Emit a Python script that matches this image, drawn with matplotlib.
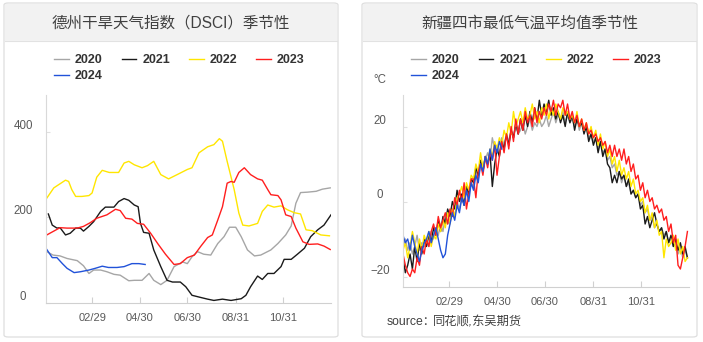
import matplotlib.pyplot as plt
from matplotlib.patches import FancyBboxPatch, Rectangle
from matplotlib.lines import Line2D

plt.rcParams['font.family'] = ['Liberation Sans', 'Noto Sans CJK SC', 'DejaVu Sans']

years = ['2020', '2021', '2022', '2023', '2024']
colors = {'2020': '#a6a6a6', '2021': '#1a1a1a', '2022': '#ffe600',
          '2023': '#ff1e1e', '2024': '#2152d9'}

# x axis: day of year (leap-year calendar)
tick_days = [60, 121, 182, 244, 305]
tick_labels = ['02/29', '04/30', '06/30', '08/31', '10/31']

# Dezhou drought index (DSCI)
dsci_day_2020 = [2, 10, 19, 28, 41, 49, 56, 62, 71, 79, 88, 96, 107, 114, 124, 133, 139, 148, 156,
                 165, 176, 182, 188, 195, 203, 212, 221, 229, 236, 244, 251, 259, 268, 276, 289,
                 298, 308, 315, 321, 327, 336, 347, 355, 365]
dsci_2020 = [120, 112, 110, 104, 99, 87, 69, 77, 77, 73, 67, 65, 52, 53, 53, 69, 53, 43, 53,
             85, 96, 92, 108, 120, 114, 112, 139, 155, 177, 177, 155, 124, 110, 112, 124,
             139, 159, 180, 233, 258, 259, 261, 266, 269]

dsci_day_2021 = [4, 9, 15, 19, 26, 32, 39, 45, 49, 56, 62, 71, 77, 88, 94, 101, 107, 114, 119,
                 122, 126, 133, 139, 148, 156, 163, 173, 180, 188, 199, 208, 216, 227, 238, 251,
                 257, 263, 272, 278, 285, 293, 302, 306, 315, 323, 332, 340, 349, 357, 366]
dsci_2021 = [208, 182, 175, 176, 159, 163, 175, 175, 168, 179, 190, 214, 224, 224, 237, 244, 240,
             229, 225, 186, 165, 163, 124, 85, 53, 49, 49, 38, 18, 13, 9, 6, 9, 6, 10,
             18, 38, 63, 55, 69, 69, 85, 102, 102, 114, 128, 155, 171, 182, 206]

dsci_day_2022 = [2, 11, 26, 30, 34, 39, 47, 56, 60, 66, 73, 82, 94, 101, 107, 114, 124, 131, 139,
                 148, 158, 169, 182, 188, 197, 208, 216, 223, 227, 233, 242, 248, 253, 261, 272,
                 278, 285, 293, 302, 310, 319, 327, 334, 342, 353, 364]
dsci_2022 = [245, 269, 287, 284, 265, 249, 249, 251, 257, 294, 310, 305, 305, 327, 331, 323, 316,
             321, 331, 300, 290, 300, 312, 316, 351, 365, 370, 384, 378, 331, 265, 210, 182, 180,
             186, 214, 229, 224, 227, 218, 211, 208, 171, 169, 159, 157]

dsci_day_2023 = [2, 10, 19, 28, 41, 49, 58, 66, 79, 90, 96, 103, 111, 118, 126, 135, 144, 154,
                 165, 173, 182, 191, 199, 208, 214, 221, 227, 233, 238, 242, 248, 255, 263, 272,
                 278, 285, 289, 298, 302, 308, 315, 321, 330, 338, 349, 357, 365]
dsci_2023 = [159, 167, 176, 175, 175, 179, 188, 198, 206, 219, 216, 198, 196, 186, 184, 163, 139,
             114, 90, 92, 106, 112, 132, 153, 159, 194, 225, 280, 284, 282, 305, 316, 300, 290,
             287, 265, 253, 251, 241, 206, 202, 175, 143, 137, 138, 133, 125]

dsci_day_2024 = [2, 9, 15, 22, 28, 37, 45, 56, 64, 73, 81, 92, 101, 111, 120, 128]
dsci_2024 = [125, 106, 106, 92, 81, 71, 73, 77, 81, 86, 83, 83, 85, 92, 92, 90]

# Xinjiang four-city mean minimum temperature (deg C), every 3rd day
temp_day = list(range(1, 366, 3))
temp_2020 = [-12, -10, -13, -11, -14, -12, -9, -13, -11, -12,
             -10, -12, -8, -10, -7, -9, -6, -8, -4, -6,
             -5, -2, -4, 0, -2, 1, -1, 3, 2, 5,
             4, 8, 6, 10, 8, 11, 13, 11, 17, 14,
             15, 13, 17, 15, 18, 16, 19, 17, 20, 18,
             19, 21, 18, 20, 22, 19, 21, 20, 22, 20,
             21, 23, 20, 22, 24, 21, 23, 22, 24, 21,
             23, 21, 22, 20, 22, 19, 21, 19, 20, 17,
             18, 16, 17, 14, 16, 13, 14, 11, 12, 9,
             10, 7, 8, 5, 7, 4, 5, 2, 3, 1,
             2, -1, 0, -3, -2, -5, -4, -7, -6, -8,
             -7, -9, -8, -11, -10, -12, -11, -14, -12, -15, -13, -15]
temp_2021 = [-15, -19, -17, -14, -18, -12, -16, -11, -14, -10,
             -12, -9, -11, -7, -9, -5, -8, -4, -6, -2,
             -4, 0, -2, 3, 0, 2, -1, 4, 2, 6,
             5, 9, 7, 11, 8, 12, 10, 13, 4, 10,
             14, 12, 16, 14, 18, 15, 19, 17, 21, 18,
             22, 19, 23, 20, 24, 21, 25, 22, 27, 23,
             26, 24, 27, 23, 25, 22, 24, 21, 23, 20,
             24, 21, 23, 19, 22, 20, 21, 18, 20, 16,
             18, 15, 17, 13, 16, 12, 14, 10, 9, 5,
             7, 5, 8, 6, 7, 4, 6, 2, 3, 1,
             2, -2, -1, -6, -4, -7, -5, -3, -6, -8,
             -7, -10, -8, -11, -9, -12, -10, -13, -11, -14, -12, -15]
temp_2022 = [-13, -11, -15, -12, -8, -11, -14, -10, -13, -9,
             -11, -8, -12, -9, -10, -6, -8, -5, -7, -3,
             -6, -2, -4, 1, 2, 4, 1, 5, 3, 7,
             6, 10, 8, 13, 9, 12, 10, 14, 12, 16,
             14, 17, 15, 19, 17, 21, 18, 24, 20, 22,
             24, 21, 25, 22, 23, 26, 22, 24, 21, 25,
             23, 26, 22, 25, 23, 26, 24, 22, 25, 23,
             24, 22, 23, 21, 24, 20, 22, 19, 21, 18,
             20, 17, 19, 15, 18, 14, 16, 12, 14, 10,
             12, 8, 11, 7, 9, 6, 8, 4, 6, 2,
             3, 0, 1, -3, -1, -5, -3, -7, -5, -9,
             -8, -15, -10, -12, -11, -9, -13, -10, -14, -12, -16, -15]
temp_2023 = [-14, -17, -19, -20, -18, -19, -15, -17, -12, -14,
             -10, -12, -8, -6, -9, -4, -7, -5, -3, -6,
             -2, -4, 1, -1, 3, 0, 5, -2, 2, 6,
             6, 1, 8, 10, 7, 12, 9, 13, 11, 15,
             7, 12, 16, 13, 18, 14, 20, 16, 22, 18,
             22, 19, 24, 21, 23, 20, 25, 21, 24, 22,
             25, 23, 26, 24, 27, 23, 26, 25, 27, 23,
             26, 22, 24, 21, 23, 20, 22, 19, 21, 18,
             19, 17, 18, 16, 17, 15, 16, 13, 15, 12,
             15, 12, 14, 11, 14, 10, 12, 8, 10, 6,
             7, 3, 5, 1, 3, 0, 1, -2, -1, -3,
             -2, -5, -4, -8, -6, -11, -9, -17, -18, -15, -12, -8]
temp_2024 = [-9, -11, -10, -13, -9, -12, -14, -16, -13, -11,
             -10, -8, -11, -9, -7, -10, -13, -15, -14, -9,
             -6, -3, -5, -1, -3, 1, -1, 3, 0, 5,
             3, 7, 5, 10, 8, 12, 10, 14, 11, 15,
             13, 16, 14]

W, H = 703, 342
fig = plt.figure(figsize=(W / 100, H / 100), dpi=100)
fig.patch.set_facecolor('white')


def panel(x0, x1, title):
    # card with grey header band
    fig.patches.append(FancyBboxPatch((x0 / W, 1 - 337 / H), (x1 - x0) / W, 334 / H,
                                      boxstyle='round,pad=0,rounding_size=0.006',
                                      transform=fig.transFigure, facecolor='white',
                                      edgecolor='#dedede', linewidth=0.9, zorder=-2))
    fig.patches.append(Rectangle(((x0 + 1) / W, 1 - 41 / H), (x1 - x0 - 2) / W, 37 / H,
                                 transform=fig.transFigure, facecolor='#f2f2f2',
                                 edgecolor='none', zorder=-1))
    fig.lines.append(Line2D([(x0 + 1) / W, (x1 - 1) / W], [1 - 41 / H, 1 - 41 / H],
                            transform=fig.transFigure, color='#e2e2e2', lw=0.8, zorder=-1))
    fig.text((x0 + x1) / 2 / W, 1 - 23 / H, title, ha='center', va='center',
             fontsize=11.2, color='#404040')


def style_axes(ax, ylim, yticks):
    ax.set_facecolor('none')
    ax.set_xlim(1, 366)
    ax.set_ylim(*ylim)
    for s in ['top', 'right']:
        ax.spines[s].set_visible(False)
    ax.spines['left'].set_color('#d9d9d9')
    ax.spines['bottom'].set_color('#d0d0d0')
    ax.set_xticks(tick_days, tick_labels)
    ax.set_yticks(yticks)
    ax.tick_params(axis='x', direction='in', length=4, color='#d0d0d0', pad=7,
                   labelsize=8, labelcolor='#595959')
    ax.tick_params(axis='y', direction='in', length=3, color='#e0e0e0', pad=16.5,
                   labelsize=8.3, labelcolor='#595959')
    for lbl in ax.get_yticklabels():
        lbl.set_horizontalalignment('center')
        lbl.set_verticalalignment('bottom')


def add_legend(ax, x):
    hs = [Line2D([], [], color=colors[y], lw=1.0) for y in years]
    order = [0, 4, 1, 2, 3]
    ax.legend([hs[i] for i in order], [years[i] for i in order], ncol=4,
              loc='upper left', bbox_to_anchor=(x / W, 1 - 48 / H),
              bbox_transform=fig.transFigure, frameon=False, borderpad=0,
              handlelength=1.15, handletextpad=0.5, columnspacing=1.52,
              labelspacing=0.3, prop={'weight': 'bold', 'size': 9},
              labelcolor='#333333')


panel(4, 338, '德州干旱天气指数（DSCI）季节性')
panel(362, 697, '新疆四市最低气温平均值季节性')

# left: DSCI
ax1 = fig.add_axes([46 / W, (H - 303) / H, 285 / W, 208 / H])
dsci = {'2020': (dsci_day_2020, dsci_2020), '2021': (dsci_day_2021, dsci_2021),
        '2022': (dsci_day_2022, dsci_2022), '2023': (dsci_day_2023, dsci_2023),
        '2024': (dsci_day_2024, dsci_2024)}
for y in years:
    d, v = dsci[y]
    ax1.plot(d, v, color=colors[y], lw=1.0)
style_axes(ax1, (0, 486), [0, 200, 400])
add_legend(ax1, 48)

# right: temperature
ax2 = fig.add_axes([403 / W, (H - 287) / H, 286 / W, 192 / H])
temps = {'2020': temp_2020, '2021': temp_2021, '2022': temp_2022,
         '2023': temp_2023, '2024': temp_2024}
for y in years:
    v = temps[y]
    ax2.plot(temp_day[:len(v)], v, color=colors[y], lw=1.0)
style_axes(ax2, (-22.8, 28.4), [-20, 0, 20])
add_legend(ax2, 405)
fig.text(380 / W, 1 - 80 / H, '°C', ha='center', va='center', fontsize=8.3, color='#595959')
fig.text(387 / W, 1 - 322 / H, 'source：', ha='left', va='center', fontsize=8.8,
         color='#404040')
fig.text(433 / W, 1 - 322 / H, '同花顺,东吴期货', ha='left', va='center', fontsize=8.8,
         color='#404040', style='italic')

fig.savefig('out.png', dpi=100)
